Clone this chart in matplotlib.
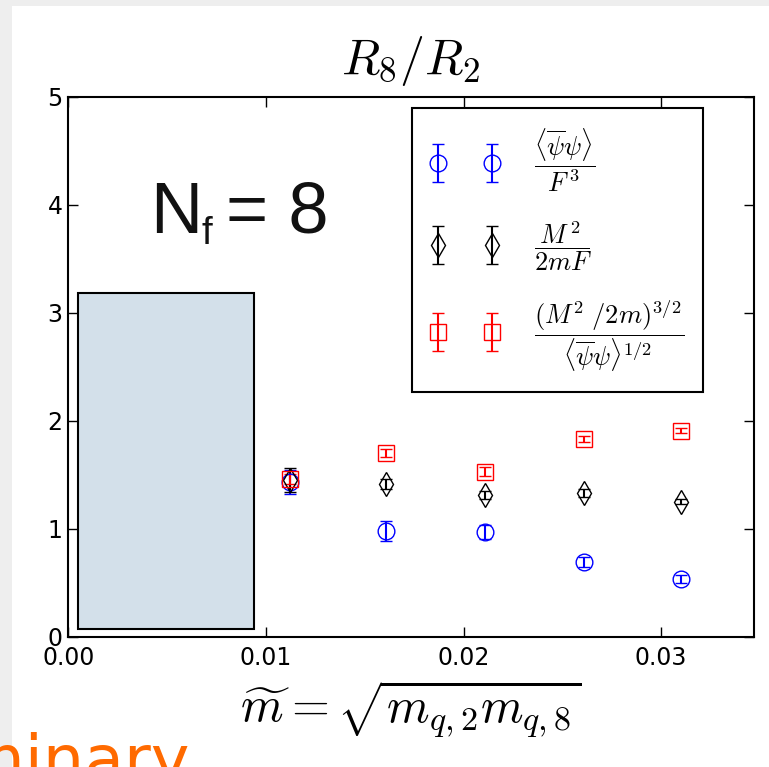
import matplotlib
matplotlib.use("Agg")
import matplotlib.pyplot as plt
from matplotlib.patches import Rectangle
from matplotlib.container import ErrorbarContainer
from matplotlib.legend_handler import HandlerErrorbar

plt.rcParams['mathtext.fontset'] = 'cm'
plt.rcParams['font.family'] = ['DejaVu Sans']

# ---- data ----
m_tilde = [0.0112, 0.0161, 0.0211, 0.0261, 0.0310]

ratio_condensate = [1.435, 0.979, 0.969, 0.694, 0.534]
err_condensate = [0.11, 0.09, 0.065, 0.045, 0.035]

ratio_gmor = [1.45, 1.414, 1.312, 1.328, 1.25]
err_gmor = [0.11, 0.05, 0.035, 0.035, 0.025]

ratio_mixed = [1.46, 1.698, 1.528, 1.83, 1.907]
err_mixed = [0.05, 0.037, 0.04, 0.03, 0.025]

labels = [
    r"$\dfrac{\langle\overline{\psi}\psi\rangle}{F^{\,3}}$",
    r"$\dfrac{M^{\,2}}{2mF}$",
    r"$\dfrac{(M^2\ /2m)^{3/2}}{\langle\overline{\psi}\psi\rangle^{1/2}}$",
]
x_ticks = [0.00, 0.01, 0.02, 0.03]
x_ticklabels = ["0.00", "0.01", "0.02", "0.03"]
y_ticks = [0, 1, 2, 3, 4, 5]

W, H = 769, 767
fig = plt.figure(figsize=(W / 100, H / 100), dpi=100)
fig.patch.set_facecolor('#eeeeee')
# slide white area
fig.patches.append(Rectangle((12 / W, 0), 1, 1 - 6 / H, transform=fig.transFigure,
                             facecolor='white', edgecolor='none', zorder=-10))

ax = fig.add_axes([68.3 / W, 1 - 636.7 / H, (754 - 68.3) / W, 540 / H])

series = [
    (ratio_condensate, err_condensate, 'b', 'o', 12),
    (ratio_gmor, err_gmor, 'k', 'd', 12),
    (ratio_mixed, err_mixed, 'r', 's', 12),
]
for (yv, ev, col, mk, ms), lab in zip(series, labels):
    ax.errorbar(m_tilde, yv, yerr=ev, fmt=mk, color=col, mfc='none', mec=col,
                ms=ms, mew=1.0, elinewidth=1.5, capsize=4.3, capthick=1.5, label=lab)

ax.set_xlim(0, 0.0347)
ax.set_ylim(0, 5)
ax.set_xticks(x_ticks)
ax.set_xticklabels(x_ticklabels)
ax.set_yticks(y_ticks)
ax.tick_params(direction='in', length=7, width=1, top=True, right=True, labelsize=17)
ax.tick_params(axis='x', pad=7)
ax.tick_params(axis='y', pad=4)
for s in ax.spines.values():
    s.set_linewidth(1.5)

ax.add_patch(Rectangle((0.00049, 0.071), 0.00938 - 0.00049, 3.18 - 0.071,
                       facecolor='#d3e0ea', edgecolor='black', linewidth=1.5, zorder=3))

ax.set_title(r"$R_8/R_2$", fontsize=36, pad=16)
ax.set_xlabel(r"$\widetilde{m} = \sqrt{m_{q,2}m_{q,8}}$", fontsize=35, labelpad=6)

leg = ax.legend(loc='upper right', bbox_to_anchor=((703 - 68.3) / 685.7, (636.7 - 108) / 540),
                borderaxespad=0, numpoints=2, fancybox=False, framealpha=1,
                edgecolor='black', fontsize=19, handlelength=2.65, labelspacing=0.93,
                handletextpad=1.3, borderpad=0.7,
                handler_map={ErrorbarContainer: HandlerErrorbar(yerr_size=0.72)})
leg.get_frame().set_linewidth(1.5)

# N_f = 8 annotation
fig.text(150 / W, 1 - 232.7 / H, "N", fontsize=52, family='Liberation Sans', color='#111111')
fig.text(201 / W, 1 - 244 / H, "f", fontsize=28, family='Liberation Sans', color='#111111')
fig.text(226 / W, 1 - 232.7 / H, "= 8", fontsize=52, family='Liberation Sans', color='#111111')

# cut-off slide watermark
fig.text(190 / W, 1 - 782 / H, "Preliminary", fontsize=47, color='#ff6a00', ha='right')

fig.savefig("out.png", dpi=100)
